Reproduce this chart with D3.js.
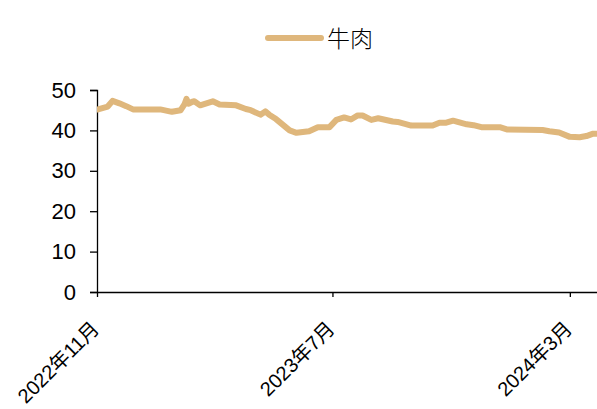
<!DOCTYPE html>
<html><head><meta charset="utf-8">
<script src="https://cdn.jsdelivr.net/npm/d3@7"></script>
<style>body{margin:0;background:#fff}svg{display:block}</style>
</head><body>
<svg id="c" width="597" height="409"></svg>
<script>
const seriesName = "牛肉";
const dates = ["2022-11-02","2022-11-12","2022-11-17","2022-11-24","2022-12-01","2022-12-08","2023-01-05","2023-01-17","2023-01-26","2023-01-30","2023-02-01","2023-02-03","2023-02-07","2023-02-09","2023-02-15","2023-02-28","2023-03-07","2023-03-24","2023-04-03","2023-04-08","2023-04-18","2023-04-23","2023-04-27","2023-05-04","2023-05-18","2023-05-25","2023-06-07","2023-06-16","2023-06-28","2023-07-05","2023-07-13","2023-07-20","2023-07-27","2023-08-01","2023-08-10","2023-08-17","2023-09-01","2023-09-06","2023-09-20","2023-10-12","2023-10-19","2023-10-26","2023-11-02","2023-11-16","2023-11-23","2023-12-01","2023-12-20","2023-12-28","2024-02-02","2024-02-09","2024-02-19","2024-03-01","2024-03-11","2024-03-18","2024-03-25","2024-04-01"];
const values = [45.2,45.9,47.3,46.7,46.0,45.2,45.2,44.6,45.0,46.5,47.8,46.6,47.1,47.2,46.2,47.2,46.4,46.2,45.3,45.0,43.9,44.7,43.9,42.8,40.0,39.4,39.8,40.8,40.8,42.6,43.2,42.7,43.7,43.7,42.6,43.0,42.2,42.1,41.2,41.2,41.9,41.9,42.4,41.5,41.3,40.8,40.8,40.2,40.1,39.8,39.5,38.4,38.3,38.6,39.2,39.2];
const yTicks = [0,10,20,30,40,50];
const xTickDates = ["2022-11-01","2023-07-01","2024-03-01"];
const xTickLabels = ["2022年11月","2023年7月","2024年3月"];

const parse = d3.timeParse("%Y-%m-%d");
const data = dates.map((d,i)=>({d:parse(d), v:values[i]}));
const svg = d3.select("#c");
const color = "#DFB77C";

const x = d3.scaleTime().domain([parse("2022-11-01"), parse("2024-04-01")]).range([97, 600]);
const y = d3.scaleLinear().domain([0,50]).range([292, 90]);

// y axis
const yAxis = svg.append("g").attr("transform","translate(97,0)")
  .call(d3.axisLeft(y).tickValues(yTicks).tickSize(7).tickPadding(14).tickFormat(d3.format("d")));
yAxis.select(".domain").attr("stroke","#000").attr("stroke-width",1.3);
yAxis.selectAll(".tick line").attr("stroke","#000").attr("stroke-width",1.3);
yAxis.selectAll("text").attr("font-family","'Liberation Sans', Arial, sans-serif").attr("font-size",22).attr("fill","#000");

// x axis
const xAxis = svg.append("g").attr("transform","translate(0,292)")
  .call(d3.axisBottom(x).tickValues(xTickDates.map(parse)).tickSize(5).tickSizeOuter(0)
    .tickFormat((d,i)=>xTickLabels[i]));
xAxis.select(".domain").attr("stroke","#000").attr("stroke-width",1.3);
xAxis.selectAll(".tick line").attr("stroke","#000").attr("stroke-width",1.3);
xAxis.selectAll("text")
  .attr("font-family","'Liberation Sans', 'Noto Sans CJK SC', sans-serif")
  .attr("font-size",20).attr("fill","#000")
  .attr("text-anchor","end")
  .attr("dy",0).attr("y",0)
  .attr("transform","translate(3,38) rotate(-45)");

// line
svg.append("defs").append("clipPath").attr("id","clip")
  .append("rect").attr("x",97).attr("y",0).attr("width",500).attr("height",409);
svg.append("path").datum(data)
  .attr("clip-path","url(#clip)")
  .attr("fill","none").attr("stroke",color).attr("stroke-width",6)
  .attr("stroke-linejoin","round").attr("stroke-linecap","round")
  .attr("d", d3.line().x(d=>x(d.d)).y(d=>y(d.v)));

// legend
svg.append("line").attr("x1",268).attr("x2",321).attr("y1",38).attr("y2",38)
  .attr("stroke",color).attr("stroke-width",6).attr("stroke-linecap","round");
svg.append("text").attr("x",327).attr("y",47).text(seriesName)
  .attr("font-family","'Noto Sans CJK SC', sans-serif").attr("font-weight",300).attr("font-size",23).attr("fill","#000");
</script>
</body></html>
